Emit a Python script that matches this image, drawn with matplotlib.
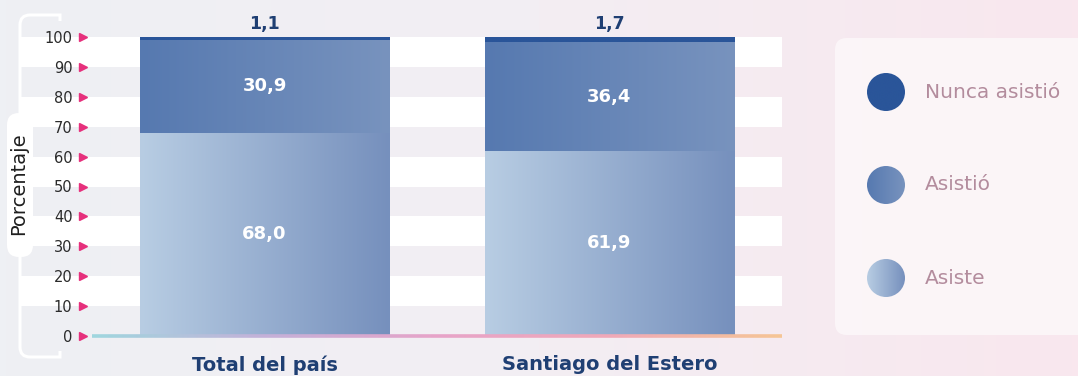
import numpy as np
import matplotlib
matplotlib.use("Agg")
import matplotlib.pyplot as plt
from matplotlib.colors import LinearSegmentedColormap
from matplotlib.patches import FancyBboxPatch, Circle, PathPatch
from matplotlib.path import Path
from matplotlib.collections import LineCollection
from matplotlib.transforms import blended_transform_factory

# ---- data ----
categories = ["Total del país", "Santiago del Estero"]
asiste = [68.0, 61.9]
asistio = [30.9, 36.4]
nunca_asistio = [1.1, 1.7]
series_names = ["Nunca asistió", "Asistió", "Asiste"]
yticks = [0, 10, 20, 30, 40, 50, 60, 70, 80, 90, 100]

W, H = 1078, 376
FONT = "DejaVu Sans"
plt.rcParams["font.family"] = [FONT]

fig = plt.figure(figsize=(W / 100, H / 100), dpi=100)

# background layer in pixel coordinates
bg = fig.add_axes([0, 0, 1, 1], zorder=0)
bg.set_xlim(0, W)
bg.set_ylim(H, 0)
bg.axis("off")
bg_cmap = LinearSegmentedColormap.from_list("bg", ["#eef0f4", "#f3eef3", "#f9e7ee"])
bg.imshow(np.linspace(0, 1, 256).reshape(1, -1), cmap=bg_cmap, extent=[0, W, H, 0],
          aspect="auto", zorder=0, interpolation="bicubic")
bg.set_xlim(0, W)
bg.set_ylim(H, 0)

# left bracket around the axis labels
r = 10
verts = [(60, 21), (60, 15), (20 + r, 15), (20, 15), (20, 15 + r), (20, 357 - r),
         (20, 357), (20 + r, 357), (60, 357), (60, 351)]
codes = [Path.MOVETO, Path.LINETO, Path.LINETO, Path.CURVE3, Path.CURVE3, Path.LINETO,
         Path.CURVE3, Path.CURVE3, Path.LINETO, Path.LINETO]
bg.add_patch(PathPatch(Path(verts, codes), fill=False, edgecolor="white", lw=2.2, zorder=2))
bg.add_patch(FancyBboxPatch((7, 113), 26, 144, boxstyle="round,pad=0,rounding_size=12",
                            facecolor="white", edgecolor="none", zorder=3))

# legend panel
bg.add_patch(FancyBboxPatch((835, 38), 300, 297, boxstyle="round,pad=0,rounding_size=12",
                            facecolor="#fcf7f9", edgecolor="none", alpha=0.9, zorder=2))

colors = {
    "Nunca asistió": ("#2a5599", "#2a5599"),
    "Asistió": ("#5679b0", "#7893be"),
    "Asiste": ("#b8cde3", "#7690bd"),
}


def gradient_in(ax, patch, c0, c1, z):
    ext = patch.get_extents()
    inv = ax.transData.inverted()
    (x0, y0), (x1, y1) = inv.transform([(ext.x0, ext.y0), (ext.x1, ext.y1)])
    cmap = LinearSegmentedColormap.from_list("g", [c0, c1])
    im = ax.imshow(np.linspace(0, 1, 256).reshape(1, -1), cmap=cmap,
                   extent=[x0, x1, y0, y1], aspect="auto", zorder=z,
                   interpolation="bicubic", origin="lower")
    im.set_clip_path(patch)
    return im


for i, name in enumerate(series_names):
    cy = 92 + i * 93
    circ = Circle((886, cy), 19, facecolor="none", edgecolor="none", zorder=4)
    bg.add_patch(circ)
    gradient_in(bg, circ, *colors[name], z=4)
    bg.text(925, cy, name, fontsize=14.5, color="#b38c9d", va="center", ha="left", zorder=5)
bg.set_xlim(0, W)
bg.set_ylim(H, 0)

# chart axes
ax = fig.add_axes([92 / W, 1 - 336 / H, 690 / W, (336 - 37) / H], zorder=1)
ax.set_facecolor("none")
for s in ax.spines.values():
    s.set_visible(False)
x = np.arange(len(categories))
ax.set_xlim(-0.5, 1.5)
ax.set_ylim(0, 100)

# white stripes every other band
for y0 in range(10, 100, 20):
    ax.axhspan(y0, y0 + 10, xmin=-72 / 690, xmax=1, facecolor="white",
               edgecolor="none", zorder=0, clip_on=False)

bw = 0.722
bottoms = np.zeros(len(categories))
for name, vals in [("Asiste", asiste), ("Asistió", asistio), ("Nunca asistió", nunca_asistio)]:
    bars = ax.bar(x, vals, bw, bottom=bottoms, color="none", edgecolor="none", zorder=2)
    for b in bars:
        gradient_in(ax, b, *colors[name], z=2)
    for xi, v, b0 in zip(x, vals, bottoms):
        lab = f"{v:.1f}".replace(".", ",")
        if name == "Nunca asistió":
            ax.text(xi, b0 + v + 1.2, lab, ha="center", va="bottom", fontsize=12.5,
                    fontweight="bold", color="#1f3f73", zorder=5, clip_on=False)
        else:
            ax.text(xi, b0 + v / 2, lab, ha="center", va="center", fontsize=13,
                    fontweight="bold", color="white", zorder=5)
    bottoms = bottoms + np.array(vals)
ax.set_xlim(-0.5, 1.5)
ax.set_ylim(0, 100)

# gradient baseline
xs = np.linspace(-0.5, 1.5, 300)
segs = [[(xs[k], 0), (xs[k + 1], 0)] for k in range(len(xs) - 1)]
base_cmap = LinearSegmentedColormap.from_list(
    "base", ["#9fd6de", "#c4b0d8", "#e7a3c8", "#f0a8b8", "#f5c595"])
lc = LineCollection(segs, colors=base_cmap(np.linspace(0, 1, len(segs))), linewidths=2.6,
                    zorder=4, clip_on=False)
ax.add_collection(lc)

# ticks
ax.set_yticks(yticks)
ax.set_yticklabels([str(t) for t in yticks], fontsize=10.5, color="#2b2b2b")
ax.tick_params(axis="y", length=0, pad=14)
ax.set_xticks(x)
ax.set_xticklabels(categories, fontsize=14, fontweight="bold", color="#1f3f73")
ax.tick_params(axis="x", length=0, pad=14)

tri_tr = blended_transform_factory(fig.transFigure, ax.transData)
ax.plot([83 / W] * len(yticks), yticks, linestyle="none", marker=">", markersize=6,
        color="#e6307c", transform=tri_tr, clip_on=False, zorder=5)

fig.text(19 / W, 1 - 184 / H, "Porcentaje", rotation=90, ha="center", va="center",
         fontsize=14, color="#1f1f1f", zorder=6)

fig.savefig("out.png", dpi=100)
